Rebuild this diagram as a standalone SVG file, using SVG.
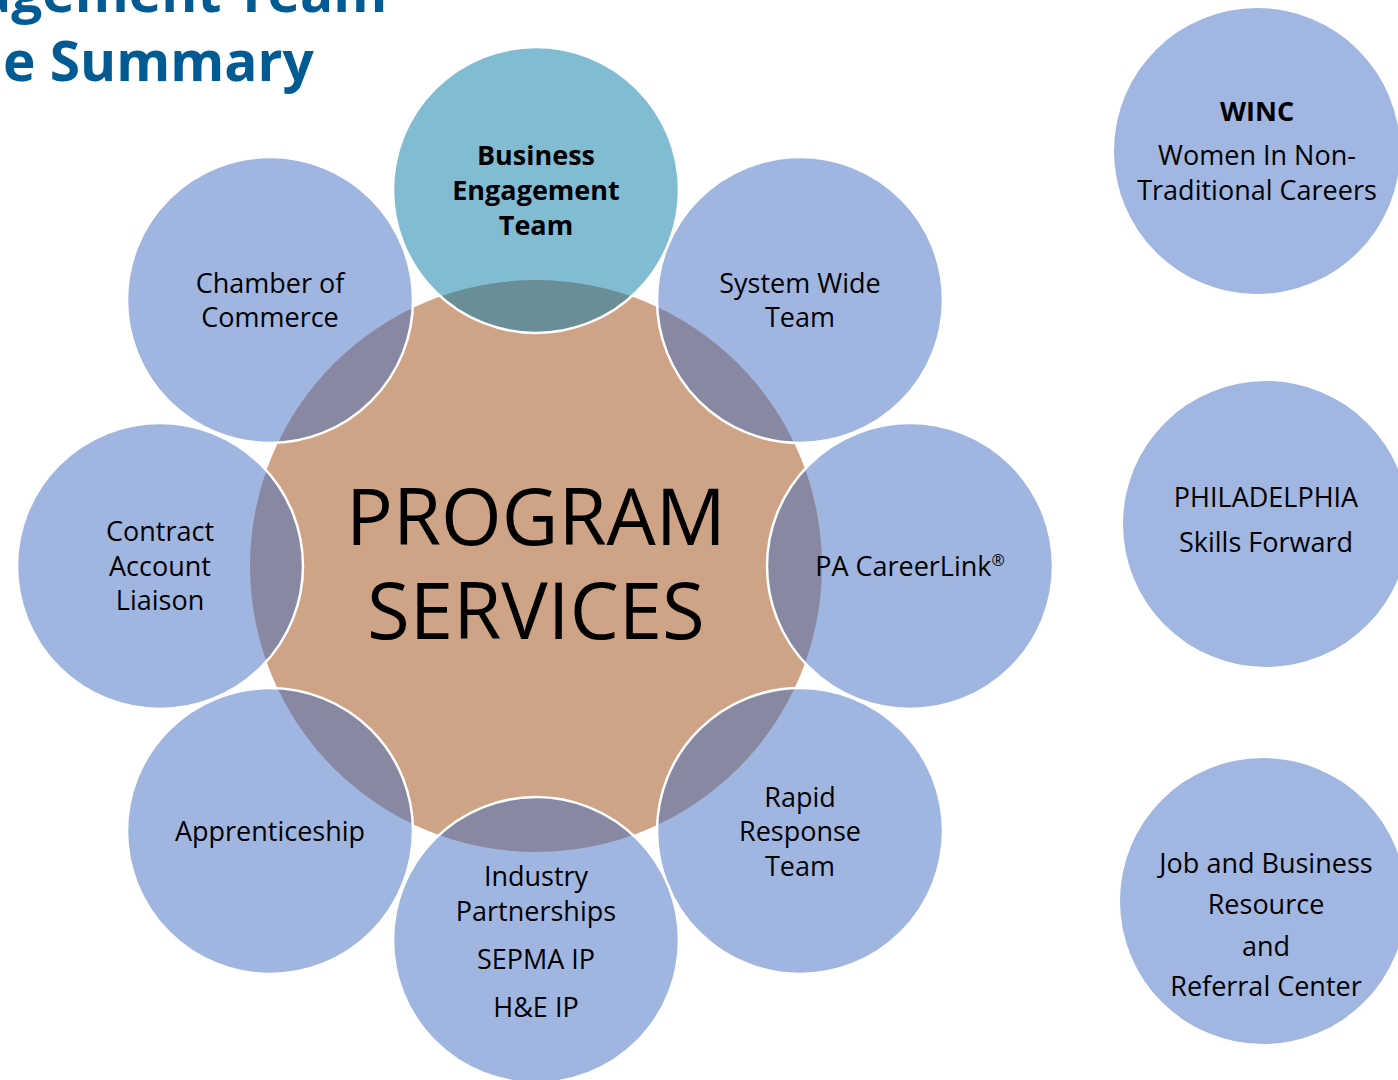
<svg xmlns="http://www.w3.org/2000/svg" width="1398" height="1080" viewBox="0 0 1398 1080">
  <style>
    .lbl { font-family: "Open Sans", "Noto Sans", sans-serif; font-size: 27px; fill: #000; text-anchor: middle; }
    .b { font-weight: bold; }
    .title { font-family: "Open Sans", "Noto Sans", sans-serif; font-size: 55px; font-weight: bold; fill: #005A94; }
    .big { font-family: "Open Sans", "Noto Sans", sans-serif; font-size: 78px; fill: #000; text-anchor: middle; }
    .sat { fill: rgb(65,109,193); fill-opacity: 0.5; stroke: #fff; stroke-width: 2.5; }
    .hub { fill: rgb(5,121,167); fill-opacity: 0.5; stroke: #fff; stroke-width: 2.5; }
    .side { fill: #A1B6E0; }
  </style>
  <rect width="1398" height="1080" fill="#fff"/>

  <!-- heading (cut at the page edge) -->
  <g id="heading">
    <text class="title" x="-22" y="12">agement Team</text>
    <text class="title" x="3" y="81">e Summary</text>
  </g>

  <!-- central circle -->
  <g id="program-services">
    <circle cx="536" cy="566" r="286" fill="#CFA385"/>
    <text class="big" x="536" y="545">PROGRAM</text>
    <text class="big" x="536" y="639">SERVICES</text>
  </g>

  <!-- ring of service circles -->
  <g id="chamber">
    <circle class="sat" cx="270" cy="300" r="143"/>
    <text class="lbl" x="270" y="293">Chamber of</text>
    <text class="lbl" x="270" y="327">Commerce</text>
  </g>
  <g id="business-engagement">
    <circle class="hub" cx="536" cy="190" r="143"/>
    <text class="lbl b" x="536" y="165">Business</text>
    <text class="lbl b" x="536" y="200">Engagement</text>
    <text class="lbl b" x="536" y="235">Team</text>
  </g>
  <g id="system-wide">
    <circle class="sat" cx="800" cy="300" r="143"/>
    <text class="lbl" x="800" y="293">System Wide</text>
    <text class="lbl" x="800" y="327">Team</text>
  </g>
  <g id="contract-liaison">
    <circle class="sat" cx="160" cy="566" r="143"/>
    <text class="lbl" x="160" y="541">Contract</text>
    <text class="lbl" x="160" y="576">Account</text>
    <text class="lbl" x="160" y="610">Liaison</text>
  </g>
  <g id="careerlink">
    <circle class="sat" cx="910" cy="566" r="143"/>
    <text class="lbl" x="910" y="576">PA CareerLink<tspan font-size="16" dy="-10">®</tspan></text>
  </g>
  <g id="apprenticeship">
    <circle class="sat" cx="270" cy="831" r="143"/>
    <text class="lbl" x="270" y="841">Apprenticeship</text>
  </g>
  <g id="rapid-response">
    <circle class="sat" cx="800" cy="831" r="143"/>
    <text class="lbl" x="800" y="807">Rapid</text>
    <text class="lbl" x="800" y="841">Response</text>
    <text class="lbl" x="800" y="876">Team</text>
  </g>
  <g id="industry-partnerships">
    <circle class="sat" cx="536" cy="940" r="143"/>
    <text class="lbl" x="536" y="886">Industry</text>
    <text class="lbl" x="536" y="921">Partnerships</text>
    <text class="lbl" x="536" y="969">SEPMA IP</text>
    <text class="lbl" x="536" y="1017">H&amp;E IP</text>
  </g>

  <!-- stand-alone circles on the right -->
  <g id="winc">
    <circle class="side" cx="1257" cy="151" r="143"/>
    <text class="lbl b" x="1257" y="121">WINC</text>
    <text class="lbl" x="1257" y="165">Women In Non-</text>
    <text class="lbl" x="1257" y="200">Traditional Careers</text>
  </g>
  <g id="philadelphia">
    <circle class="side" cx="1266" cy="524" r="143"/>
    <text class="lbl" x="1266" y="507">PHILADELPHIA</text>
    <text class="lbl" x="1266" y="552">Skills Forward</text>
  </g>
  <g id="job-business">
    <circle class="side" cx="1263" cy="901" r="143"/>
    <text class="lbl" x="1266" y="873" font-size="31">Job and Business</text>
    <text class="lbl" x="1266" y="914" font-size="31">Resource</text>
    <text class="lbl" x="1266" y="956" font-size="31">and</text>
    <text class="lbl" x="1266" y="996" font-size="31">Referral Center</text>
  </g>

  <g id="connectors"/>
</svg>
